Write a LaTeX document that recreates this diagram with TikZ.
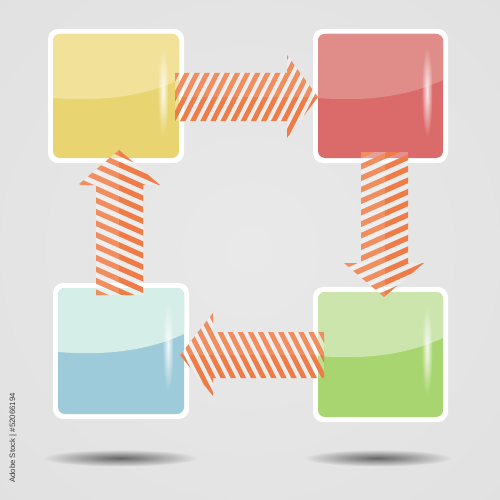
\documentclass[tikz,border=0pt]{standalone}
\usepackage{fontspec}
\setmainfont{Liberation Sans}
\usetikzlibrary{fadings,calc}
\definecolor{bgin}{HTML}{E9E9E9}
\definecolor{bgout}{HTML}{DEDEDE}
\definecolor{ylight}{HTML}{F1E199}
\definecolor{ydark}{HTML}{E8D470}
\definecolor{rlight}{HTML}{E08C88}
\definecolor{rdark}{HTML}{DB6B6B}
\definecolor{blight}{HTML}{D5EEE7}
\definecolor{bdark}{HTML}{9ECBD9}
\definecolor{glight}{HTML}{CBE5AC}
\definecolor{gdark}{HTML}{A9D570}
\definecolor{stripec}{HTML}{EF7C47}
\definecolor{txtc}{HTML}{3A3A3A}
\tikzfading[name=softfade, inner color=transparent!0, outer color=transparent!100]
\tikzset{
  frame/.style={fill=white, rounded corners=10pt},
  stripeline/.style={draw=stripec},
  shadowblob/.style={fill=black!60, path fading=softfade},
  shine/.style={fill=white, fill opacity=0.85, path fading=softfade},
  wmark/.style={rotate=90, text=txtc, font=\fontsize{7.8}{9}\selectfont, inner sep=0pt}
}
% #1 x1, #2 y1, #3 x2, #4 y2 (outer), #5 light colour, #6 dark colour
\newcommand{\glassbox}[6]{%
  \fill[frame] (#1,#2) rectangle (#3,#4);
  \begin{scope}
    \clip[rounded corners=7pt] (#1+5,#2+5) rectangle (#3-5,#4-5);
    \fill[#6] (#1,#2) rectangle (#3,#4);
    \fill[#5] (#1,#2) -- (#3,#2) -- (#3-5,#2+51)
      .. controls (#3-40,#2+67) and (#1+55,#2+73) .. (#1+5,#2+69)
      -- (#1,#2+69) -- cycle;
    \fill[shine] (#3-21,#2+63) ellipse (5.5pt and 45pt);
  \end{scope}}
% #1 path, #2 stripe angle, #3 centre, #4 period, #5 stripe width, #6 light-half rectangle
\newcommand{\stripedarrow}[6]{%
  \begin{scope}
    \clip #1;
    \fill[white, fill opacity=0.25] #1;
    \foreach \k in {-16,...,16}
      \draw[stripeline, line width=#5] ($#3+(#2+90:\k*#4)$) ++(#2:-130) -- ++(#2:260);
    \fill[white, fill opacity=0.14] #6;
  \end{scope}}
\begin{document}
\begin{tikzpicture}[x=1pt,y=-1pt]
\useasboundingbox (0,0) rectangle (500,500);
\begin{scope}
  \clip (0,0) rectangle (500,500);
  \shade[inner color=bgin, outer color=bgout] (-250,-250) rectangle (750,750);
\end{scope}
% shadows
\fill[shadowblob] (120,458) ellipse (78pt and 8.5pt);
\fill[shadowblob] (378,458) ellipse (74pt and 8.5pt);
% boxes
\glassbox{48}{29}{184}{163}{ylight}{ydark}
\glassbox{313}{29}{448}{163}{rlight}{rdark}
\glassbox{53}{283}{189}{419}{blight}{bdark}
\glassbox{313}{287}{448}{422}{glight}{gdark}
\coordinate (cr) at (246,96);
\coordinate (cd) at (385,225);
\coordinate (cl) at (252,355);
\coordinate (cu) at (119,222);
% right arrow
\stripedarrow{(175,73) -- (287,73) -- (287,55) -- (318,97) -- (287,138) -- (287,121) -- (175,121) -- cycle}{-63}{(cr)}{9}{4.8pt}{(170,50) rectangle (320,97)}
% down arrow
\stripedarrow{(361,152) -- (408,152) -- (408,263) -- (424,263) -- (384,297) -- (344,263) -- (361,263) -- cycle}{-24}{(cd)}{10.5}{5.3pt}{(340,150) rectangle (385,300)}
% left arrow
\stripedarrow{(324,332) -- (213,332) -- (213,313) -- (180,355) -- (213,396) -- (213,378) -- (324,378) -- cycle}{63}{(cl)}{9}{4.8pt}{(175,310) rectangle (330,355)}
% up arrow
\stripedarrow{(96,295) -- (96,185) -- (78,185) -- (119,150) -- (160,185) -- (143,185) -- (143,295) -- cycle}{24}{(cu)}{10.5}{5.3pt}{(75,145) rectangle (119,300)}
% side label
\node[wmark] (label) at (13,438) {Adobe Stock | \#52066194};
\end{tikzpicture}
\end{document}
